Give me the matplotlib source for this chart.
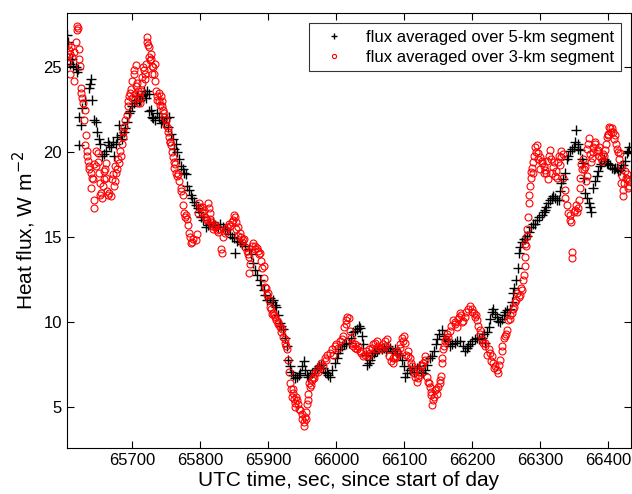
import matplotlib
matplotlib.use("Agg")
from matplotlib import pyplot as plt

# flux averaged over 5-km segment, first pass
t_5km = [65604, 65609, 65617, 65619, 65622, 65622, 65624, 65626, 65631, 65639,
         65641, 65646, 65648, 65651, 65656, 65661, 65666, 65671, 65673, 65678,
         65680, 65685, 65690, 65695, 65700, 65705, 65710, 65715, 65720, 65722,
         65725, 65729, 65734, 65739, 65747, 65754, 65757, 65764, 65769, 65771,
         65779, 65781, 65786, 65791, 65798, 65808, 65814, 65829, 65839, 65849,
         65851, 65858, 65871, 65880, 65888, 65893, 65898, 65907, 65912, 65917,
         65922, 65927, 65929, 65932, 65937, 65942, 65947, 65952, 65954, 65959,
         65964, 65974, 65983, 65991, 65998, 66003, 66008, 66015, 66018, 66025,
         66035, 66040, 66045, 66050, 66057, 66067, 66079, 66086, 66094, 66099,
         66101, 66108, 66118, 66130, 66138, 66143, 66148, 66155, 66160, 66170,
         66182, 66189, 66197, 66204, 66214, 66219, 66224, 66229, 66231, 66238,
         66243, 66248, 66255, 66260, 66265, 66268, 66273, 66280, 66287, 66295,
         66302, 66309, 66314, 66322, 66327, 66331, 66336, 66339, 66344, 66349,
         66353, 66358, 66363, 66366, 66371, 66375, 66378, 66383, 66388, 66393,
         66398, 66403, 66410, 66417, 66422, 66427, 66430]
q_5km = [26.9, 25.2, 25.0, 24.7, 22.1, 20.4, 21.6, 22.6, 23.1, 24.3,
         23.1, 21.8, 21.2, 20.8, 19.75, 20.1, 20.4, 20.6, 19.75, 20.9,
         21.6, 20.8, 21.4, 22.3, 22.7, 23.1, 23.0, 23.3, 23.2, 23.6,
         22.4, 22.1, 21.9, 22.1, 21.8, 22.1, 21.1, 20.5, 19.6, 19.2,
         18.7, 18.0, 17.5, 17.1, 16.5, 15.6, 15.8, 15.8, 15.5, 14.95,
         14.1, 14.75, 14.3, 13.1, 12.5, 11.9, 11.3, 11.3, 10.9, 9.95,
         9.6, 8.6, 7.8, 7.4, 6.9, 6.8, 7.0, 7.7, 7.2, 6.8,
         7.0, 7.4, 7.1, 6.8, 7.6, 8.2, 8.6, 8.7, 8.8, 9.4,
         9.65, 8.7, 7.5, 7.8, 8.3, 8.4, 8.5, 8.4, 8.1, 7.4,
         6.8, 7.2, 7.3, 7.2, 7.9, 8.3, 9.0, 9.55, 9.0, 8.7,
         8.9, 8.3, 8.7, 9.0, 9.1, 8.8, 9.75, 10.6, 10.8, 10.1,
         10.2, 10.6, 10.8, 11.7, 12.5, 14.1, 14.75, 15.05, 15.6, 16.0,
         16.3, 16.8, 17.2, 17.3, 17.2, 18.2, 18.8, 19.6, 20.05, 20.3,
         21.3, 20.15, 19.35, 17.6, 17.0, 16.5, 17.9, 18.6, 19.2, 19.6,
         19.35, 19.25, 19.05, 18.95, 19.25, 19.95, 20.3]

# 5-km segment, second pass of readings between the first ones
t_5km_b = [65606, 65611, 65613, 65620, 65636, 65638, 65643, 65653, 65658, 65664,
           65668, 65676, 65683, 65688, 65692, 65697, 65702, 65707, 65712, 65717,
           65718, 65724, 65727, 65731, 65737, 65742, 65744, 65750, 65752, 65760,
           65762, 65766, 65774, 65776, 65784, 65788, 65793, 65796, 65801, 65804,
           65811, 65818, 65822, 65826, 65833, 65836, 65843, 65846, 65854, 65862,
           65866, 65875, 65877, 65884, 65890, 65895, 65902, 65905, 65910, 65915,
           65919, 65925, 65934, 65940, 65945, 65950, 65957, 65962, 65968, 65971,
           65978, 65980, 65986, 65988, 65994, 66001, 66006, 66011, 66021, 66028,
           66031, 66033, 66038, 66043, 66048, 66053, 66055, 66060, 66063, 66070,
           66073, 66076, 66082, 66090, 66097, 66104, 66111, 66114, 66121, 66125,
           66127, 66134, 66141, 66146, 66151, 66158, 66164, 66167, 66174, 66178,
           66186, 66192, 66194, 66200, 66207, 66210, 66217, 66221, 66226, 66234,
           66236, 66241, 66246, 66251, 66258, 66262, 66267, 66270, 66276, 66278,
           66283, 66290, 66292, 66298, 66305, 66307, 66311, 66317, 66319, 66324,
           66329, 66334, 66341, 66346, 66351, 66355, 66356, 66361, 66365, 66368,
           66373, 66380, 66385, 66390, 66395, 66400, 66406, 66408, 66413, 66415,
           66419, 66424, 66429]
q_5km_b = [26.5, 25.5, 25.1, 24.9, 23.8, 24.0, 21.9, 20.5, 19.9, 20.6,
           20.3, 20.5, 21.0, 21.2, 21.8, 22.4, 22.9, 23.3, 23.1, 23.6,
           23.4, 23.4, 22.5, 22.0, 22.3, 21.7, 21.9, 22.0, 21.5, 20.8,
           20.2, 20.0, 19.0, 18.8, 17.8, 17.3, 16.9, 16.7, 16.2, 16.0,
           15.7, 15.9, 15.7, 15.6, 15.6, 15.4, 15.2, 15.0, 14.8, 14.6,
           14.5, 14.0, 13.5, 12.8, 12.2, 11.6, 11.4, 11.2, 11.0, 10.4,
           9.8, 9.1, 7.1, 6.7, 6.9, 7.4, 6.9, 6.9, 7.2, 7.3,
           7.5, 7.3, 7.0, 6.9, 7.2, 7.9, 8.4, 8.7, 9.1, 9.5,
           9.6, 9.8, 9.2, 8.1, 7.6, 8.0, 8.2, 8.3, 8.4, 8.5,
           8.3, 8.6, 8.3, 8.2, 7.8, 7.0, 7.3, 7.1, 7.4, 7.1,
           7.0, 7.5, 8.0, 8.7, 9.3, 9.2, 8.9, 8.6, 8.8, 8.9,
           8.6, 8.5, 8.6, 8.9, 9.1, 9.0, 9.3, 9.4, 10.2, 10.5,
           10.3, 10.0, 10.4, 10.7, 11.2, 12.0, 13.2, 14.4, 14.9, 14.9,
           15.3, 15.8, 15.8, 16.2, 16.5, 16.6, 17.0, 17.3, 17.4, 17.2,
           17.7, 18.4, 19.8, 20.2, 20.6, 20.5, 20.2, 19.6, 18.5, 17.3,
           16.8, 18.3, 18.9, 19.3, 19.5, 19.3, 19.1, 19.0, 19.1, 18.9,
           19.1, 19.5, 20.1]

# flux averaged over 3-km segment, first pass
t_3km = [65604, 65607, 65609, 65614, 65617, 65619, 65622, 65624, 65626, 65631,
         65631, 65634, 65636, 65641, 65644, 65644, 65649, 65651, 65654, 65658,
         65661, 65663, 65668, 65673, 65676, 65680, 65683, 65687, 65690, 65693,
         65695, 65698, 65703, 65705, 65707, 65710, 65712, 65715, 65717, 65720,
         65722, 65725, 65727, 65729, 65729, 65734, 65737, 65742, 65744, 65747,
         65752, 65754, 65757, 65761, 65764, 65769, 65774, 65776, 65781, 65783,
         65786, 65793, 65798, 65805, 65810, 65812, 65814, 65817, 65824, 65832,
         65836, 65844, 65851, 65853, 65858, 65863, 65866, 65871, 65871, 65878,
         65883, 65888, 65893, 65895, 65900, 65902, 65907, 65912, 65917, 65922,
         65925, 65927, 65932, 65937, 65939, 65942, 65947, 65952, 65954, 65956,
         65959, 65961, 65964, 65969, 65976, 65983, 65991, 65998, 66008, 66015,
         66018, 66023, 66028, 66035, 66042, 66050, 66057, 66062, 66069, 66074,
         66081, 66086, 66091, 66096, 66101, 66103, 66108, 66113, 66118, 66123,
         66128, 66130, 66133, 66138, 66140, 66141, 66145, 66150, 66154, 66155,
         66157, 66160, 66165, 66172, 66177, 66182, 66187, 66197, 66202, 66207,
         66211, 66216, 66219, 66224, 66229, 66233, 66236, 66241, 66243, 66246,
         66251, 66253, 66258, 66263, 66268, 66273, 66275, 66277, 66277, 66280,
         66282, 66285, 66287, 66290, 66295, 66297, 66302, 66307, 66312, 66314,
         66319, 66324, 66329, 66331, 66336, 66341, 66345, 66347, 66347, 66351,
         66356, 66358, 66361, 66366, 66368, 66371, 66376, 66380, 66385, 66390,
         66395, 66398, 66403, 66407, 66412, 66417, 66420, 66422, 66427, 66430]
q_3km = [25.6, 26.0, 24.6, 24.2, 26.5, 27.2, 26.1, 23.8, 23.2, 22.5,
         20.4, 19.75, 19.2, 18.5, 17.2, 16.7, 19.95, 18.8, 17.6, 18.4,
         19.35, 17.7, 17.4, 18.0, 18.8, 19.35, 19.75, 20.9, 21.9, 22.7,
         23.3, 23.7, 24.85, 25.15, 24.1, 23.4, 22.9, 24.1, 24.85, 25.2,
         26.5, 26.2, 25.8, 25.05, 24.6, 25.2, 23.1, 23.3, 22.7, 22.1,
         21.4, 20.9, 20.4, 19.45, 18.8, 18.3, 17.5, 16.4, 16.1, 15.25,
         14.65, 14.85, 17.0, 16.6, 16.0, 17.0, 16.4, 15.65, 15.45, 14.1,
         15.25, 15.65, 16.2, 15.9, 15.25, 14.85, 14.45, 13.85, 12.9, 14.65,
         14.35, 14.05, 13.3, 12.1, 11.7, 10.9, 10.55, 10.15, 9.75, 9.15,
         8.8, 8.4, 6.4, 5.85, 5.25, 5.45, 4.85, 4.15, 4.45, 4.75,
         5.45, 6.2, 6.6, 7.0, 7.4, 7.9, 8.2, 8.6, 9.0, 10.15,
         10.25, 8.8, 8.5, 8.3, 8.1, 8.2, 8.8, 8.6, 8.7, 9.0,
         7.7, 7.9, 8.2, 9.05, 8.8, 8.1, 7.9, 7.2, 6.5, 7.1,
         7.6, 8.0, 6.8, 6.2, 5.75, 5.15, 6.0, 6.2, 6.85, 7.6,
         8.4, 8.9, 9.15, 10.15, 9.75, 10.55, 10.05, 10.95, 10.55, 10.15,
         9.55, 8.8, 8.8, 8.4, 8.0, 7.4, 7.2, 7.8, 8.6, 9.05,
         9.55, 10.15, 10.55, 11.2, 11.5, 11.9, 12.5, 13.3, 13.85, 15.05,
         16.2, 18.0, 18.85, 19.45, 20.45, 19.95, 19.35, 18.95, 18.4, 20.15,
         19.15, 18.5, 19.25, 20.05, 17.8, 16.4, 15.9, 14.15, 13.8, 16.6,
         16.7, 17.9, 19.0, 19.15, 18.6, 20.85, 19.65, 20.5, 20.15, 19.65,
         20.15, 20.9, 21.4, 21.2, 20.5, 19.95, 18.6, 17.4, 18.4, 18.0]

# 3-km segment, second pass of readings
t_3km_b = [65605, 65606, 65608, 65610, 65612, 65615, 65618, 65620, 65621, 65623,
           65625, 65628, 65629, 65632, 65633, 65635, 65637, 65639, 65640, 65642,
           65643, 65646, 65647, 65650, 65652, 65653, 65655, 65657, 65659, 65660,
           65662, 65664, 65666, 65670, 65672, 65674, 65675, 65678, 65679, 65682,
           65685, 65686, 65688, 65692, 65694, 65697, 65699, 65700, 65702, 65704,
           65706, 65708, 65709, 65711, 65713, 65714, 65716, 65718, 65719, 65721,
           65723, 65724, 65726, 65728, 65731, 65732, 65733, 65735, 65736, 65739,
           65740, 65741, 65743, 65745, 65746, 65749, 65750, 65753, 65755, 65756,
           65759, 65760, 65762, 65763, 65766, 65767, 65771, 65772, 65775, 65778,
           65779, 65782, 65785, 65788, 65790, 65795, 65797, 65800, 65802, 65803,
           65807, 65809, 65813, 65815, 65816, 65819, 65821, 65822, 65826, 65828,
           65830, 65834, 65838, 65840, 65842, 65846, 65848, 65849, 65852, 65855,
           65856, 65860, 65862, 65864, 65868, 65870, 65873, 65876, 65880, 65881,
           65885, 65886, 65890, 65891, 65894, 65897, 65898, 65901, 65904, 65905,
           65909, 65910, 65914, 65915, 65919, 65920, 65924, 65926, 65929, 65930,
           65933, 65935, 65936, 65938, 65940, 65941, 65944, 65945, 65949, 65950,
           65953, 65955, 65957, 65958, 65960, 65963, 65966, 65967, 65971, 65973,
           65978, 65980, 65985, 65987, 65993, 65995, 66000, 66003, 66005, 66010,
           66012, 66014, 66016, 66020, 66022, 66025, 66027, 66030, 66032, 66037,
           66039, 66044, 66046, 66048, 66052, 66054, 66059, 66060, 66064, 66066,
           66071, 66072, 66077, 66078, 66083, 66084, 66088, 66089, 66093, 66094,
           66098, 66100, 66105, 66106, 66110, 66111, 66115, 66116, 66120, 66121,
           66125, 66126, 66131, 66135, 66136, 66139, 66142, 66143, 66147, 66148,
           66152, 66153, 66156, 66159, 66162, 66163, 66167, 66169, 66174, 66175,
           66179, 66180, 66184, 66185, 66189, 66191, 66194, 66199, 66200, 66204,
           66205, 66209, 66212, 66214, 66218, 66222, 66226, 66227, 66231, 66232,
           66238, 66239, 66244, 66248, 66250, 66255, 66256, 66260, 66262, 66265,
           66266, 66270, 66271, 66276, 66278, 66279, 66281, 66283, 66284, 66286,
           66288, 66289, 66291, 66292, 66294, 66296, 66299, 66300, 66303, 66305,
           66306, 66309, 66310, 66313, 66316, 66317, 66320, 66322, 66323, 66326,
           66327, 66330, 66333, 66334, 66337, 66339, 66343, 66344, 66349, 66352,
           66354, 66357, 66359, 66360, 66363, 66364, 66367, 66369, 66370, 66373,
           66374, 66377, 66378, 66381, 66383, 66386, 66387, 66391, 66392, 66394,
           66396, 66399, 66400, 66401, 66404, 66405, 66409, 66410, 66413, 66415,
           66416, 66418, 66419, 66421, 66423, 66424, 66426, 66428, 66429, 66431]
q_3km_b = [26.3, 25.3, 25.8, 26.2, 25.6, 25.9, 27.4, 27.3, 25.5, 25.1,
           23.5, 22.9, 21.9, 21.0, 20.1, 19.5, 19.0, 18.8, 17.9, 18.4,
           19.3, 19.2, 20.1, 19.4, 18.2, 17.5, 17.3, 18.0, 18.9, 19.0,
           18.5, 17.5, 17.6, 18.4, 18.7, 18.3, 19.2, 19.0, 19.6, 20.1,
           20.5, 21.2, 21.5, 22.2, 23.0, 23.5, 23.2, 24.2, 24.6, 23.4,
           23.9, 23.6, 22.9, 23.2, 23.6, 24.4, 25.0, 24.6, 24.3, 26.8,
           26.3, 25.6, 25.4, 25.5, 25.0, 24.6, 24.2, 23.6, 23.3, 23.0,
           23.5, 22.8, 23.0, 22.5, 22.3, 21.9, 21.6, 21.2, 20.6, 20.6,
           20.0, 19.7, 19.1, 19.3, 18.6, 18.7, 17.9, 17.7, 16.9, 16.2,
           16.3, 15.7, 15.0, 14.7, 14.9, 15.2, 16.4, 16.8, 16.5, 16.8,
           16.2, 16.1, 16.7, 16.1, 15.9, 15.5, 15.6, 15.7, 15.3, 15.5,
           14.3, 15.0, 15.4, 15.6, 15.8, 15.9, 16.0, 16.3, 15.5, 15.6,
           15.1, 15.0, 14.7, 14.9, 14.2, 14.0, 13.4, 14.5, 14.3, 14.5,
           14.2, 14.0, 13.6, 13.2, 12.6, 12.0, 11.6, 11.3, 10.8, 10.5,
           10.4, 10.3, 10.0, 9.9, 9.4, 9.6, 9.0, 8.6, 7.8, 7.1,
           6.1, 5.6, 6.1, 5.5, 5.0, 5.6, 5.2, 4.9, 4.6, 4.3,
           3.9, 4.3, 5.2, 5.8, 6.4, 6.3, 6.8, 6.7, 7.2, 7.1,
           7.6, 7.4, 7.8, 8.1, 8.4, 8.1, 8.7, 8.5, 8.9, 9.2,
           9.7, 9.9, 10.3, 9.5, 9.1, 8.6, 8.7, 8.4, 8.6, 8.2,
           8.0, 8.3, 8.0, 8.4, 8.5, 8.7, 8.4, 8.9, 8.5, 8.4,
           8.9, 8.6, 8.4, 8.0, 7.9, 7.6, 8.0, 8.3, 8.7, 8.5,
           8.9, 9.2, 8.3, 8.0, 7.6, 7.4, 7.0, 6.8, 6.7, 6.9,
           7.4, 7.5, 7.8, 6.5, 6.4, 5.9, 5.4, 5.6, 6.1, 5.8,
           6.4, 6.6, 7.9, 8.6, 9.0, 9.3, 9.5, 9.8, 10.0, 9.9,
           10.2, 10.3, 10.4, 10.0, 10.3, 10.6, 10.8, 10.8, 10.6, 10.3,
           10.4, 9.8, 9.3, 9.0, 8.6, 8.1, 8.2, 7.7, 7.6, 7.3,
           7.0, 7.5, 8.3, 9.2, 9.3, 10.4, 10.2, 10.8, 10.9, 11.3,
           11.7, 11.6, 12.0, 12.8, 14.6, 14.5, 15.5, 17.0, 17.5, 18.5,
           19.1, 18.8, 19.8, 20.3, 20.0, 19.6, 19.7, 19.0, 19.5, 18.8,
           19.2, 18.8, 19.5, 19.8, 19.6, 18.8, 19.4, 18.6, 18.9, 19.4,
           19.8, 19.7, 19.9, 18.5, 17.3, 16.9, 16.3, 16.0, 16.5, 16.9,
           16.5, 17.2, 18.5, 19.3, 19.6, 19.0, 18.3, 20.2, 20.5, 19.9,
           19.4, 20.0, 20.3, 20.6, 20.1, 19.8, 20.3, 19.5, 19.9, 19.8,
           20.5, 21.1, 21.0, 21.5, 21.2, 21.4, 20.8, 21.0, 20.2, 20.0,
           19.6, 19.2, 18.2, 17.8, 18.2, 18.9, 18.5, 18.7, 17.9, 18.3]

x_ticks = [65700, 65800, 65900, 66000, 66100, 66200, 66300, 66400]
y_ticks = [5, 10, 15, 20, 25]

plt.rcParams["font.family"] = ["Liberation Sans", "DejaVu Sans"]

fig = plt.figure(figsize=(6.32, 4.94), dpi=100)
ax = fig.add_axes([0.106, 0.093, 0.892, 0.881])

ax.plot(t_5km + t_5km_b, q_5km + q_5km_b, "+", color="black", markersize=7,
        markeredgewidth=1.0, label="flux averaged over 5-km segment")
ax.plot(t_3km + t_3km_b, q_3km + q_3km_b, "o", color="red",
        markerfacecolor="none", markersize=5, markeredgewidth=0.8,
        label="flux averaged over 3-km segment")

ax.set_xlim(65604, 66433)
ax.set_ylim(2.6, 28.2)
ax.set_xticks(x_ticks)
ax.set_yticks(y_ticks)
ax.tick_params(direction="in", top=True, right=True, labelsize=12, length=5)
ax.ticklabel_format(useOffset=False, style="plain", axis="x")

ax.set_xlabel("UTC time, sec, since start of day", fontsize=15, labelpad=2)
ax.set_ylabel("Heat flux, W m$^{-2}$", fontsize=15, labelpad=4)

leg = ax.legend(loc="upper right", fontsize=12, frameon=True, fancybox=False,
                borderaxespad=0.6, handlelength=2.2, markerscale=0.6,
                borderpad=0.4, labelspacing=0.3, handletextpad=0.8)
leg.get_frame().set_edgecolor("black")
leg.get_frame().set_linewidth(0.8)

plt.savefig("out.png", dpi=100)
